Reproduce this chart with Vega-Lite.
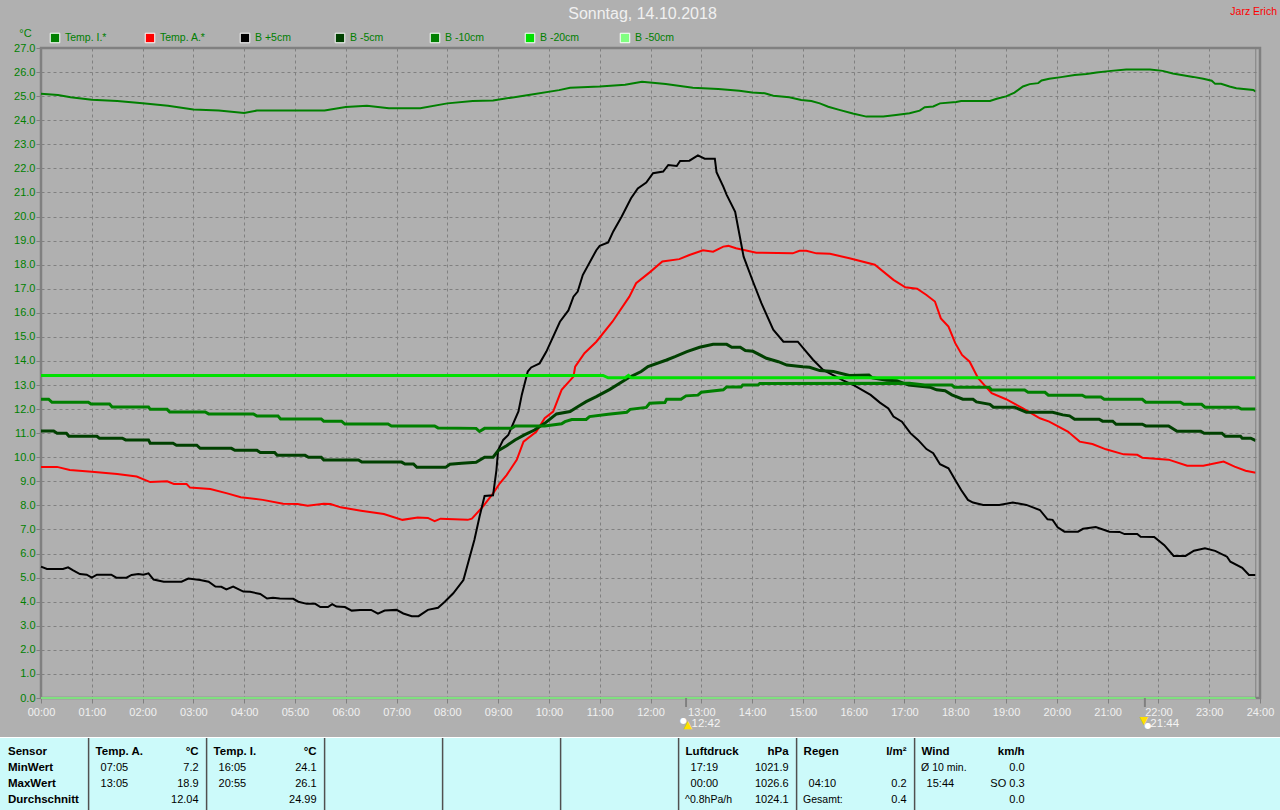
{"$schema":"https://vega.github.io/schema/vega-lite/v6.json","width":1219,"height":650,"autosize":"none","padding":{"left":41,"top":48,"right":20,"bottom":112},"background":"#b0b0b0","view":{"stroke":"#808080","strokeWidth":2.5,"fill":null},
"config":{"font":"Liberation Sans"},
"title":{"text":"Sonntag, 14.10.2018","font":"Liberation Sans","fontSize":16,"fontWeight":"normal","color":"#f0f0f0","anchor":"middle","frame":"group","dx":-8,"offset":-15},
"resolve":{"scale":{"x":"independent","y":"independent"}},
"datasets":{
"series":[
{"s":"Temp. I.*","m":0,"v":25.1},{"s":"Temp. I.*","m":20,"v":25.05},{"s":"Temp. I.*","m":35,"v":24.95},{"s":"Temp. I.*","m":60,"v":24.85},{"s":"Temp. I.*","m":90,"v":24.8},{"s":"Temp. I.*","m":120,"v":24.7},{"s":"Temp. I.*","m":150,"v":24.6},{"s":"Temp. I.*","m":180,"v":24.45},{"s":"Temp. I.*","m":210,"v":24.4},{"s":"Temp. I.*","m":240,"v":24.3},{"s":"Temp. I.*","m":255,"v":24.4},{"s":"Temp. I.*","m":335,"v":24.4},{"s":"Temp. I.*","m":360,"v":24.55},{"s":"Temp. I.*","m":385,"v":24.6},{"s":"Temp. I.*","m":411,"v":24.5},{"s":"Temp. I.*","m":448,"v":24.5},{"s":"Temp. I.*","m":480,"v":24.7},{"s":"Temp. I.*","m":510,"v":24.8},{"s":"Temp. I.*","m":534,"v":24.82},{"s":"Temp. I.*","m":576,"v":25.05},{"s":"Temp. I.*","m":612,"v":25.25},{"s":"Temp. I.*","m":625,"v":25.35},{"s":"Temp. I.*","m":660,"v":25.4},{"s":"Temp. I.*","m":690,"v":25.47},{"s":"Temp. I.*","m":710,"v":25.6},{"s":"Temp. I.*","m":738,"v":25.5},{"s":"Temp. I.*","m":770,"v":25.35},{"s":"Temp. I.*","m":800,"v":25.3},{"s":"Temp. I.*","m":825,"v":25.22},{"s":"Temp. I.*","m":840,"v":25.15},{"s":"Temp. I.*","m":855,"v":25.12},{"s":"Temp. I.*","m":865,"v":25.02},{"s":"Temp. I.*","m":884,"v":24.95},{"s":"Temp. I.*","m":898,"v":24.84},{"s":"Temp. I.*","m":910,"v":24.8},{"s":"Temp. I.*","m":920,"v":24.7},{"s":"Temp. I.*","m":930,"v":24.56},{"s":"Temp. I.*","m":943,"v":24.43},{"s":"Temp. I.*","m":959,"v":24.28},{"s":"Temp. I.*","m":975,"v":24.15},{"s":"Temp. I.*","m":995,"v":24.15},{"s":"Temp. I.*","m":1010,"v":24.22},{"s":"Temp. I.*","m":1026,"v":24.29},{"s":"Temp. I.*","m":1038,"v":24.4},{"s":"Temp. I.*","m":1044,"v":24.54},{"s":"Temp. I.*","m":1054,"v":24.57},{"s":"Temp. I.*","m":1062,"v":24.7},{"s":"Temp. I.*","m":1081,"v":24.76},{"s":"Temp. I.*","m":1087,"v":24.8},{"s":"Temp. I.*","m":1121,"v":24.8},{"s":"Temp. I.*","m":1129,"v":24.89},{"s":"Temp. I.*","m":1140,"v":24.99},{"s":"Temp. I.*","m":1150,"v":25.15},{"s":"Temp. I.*","m":1160,"v":25.4},{"s":"Temp. I.*","m":1168,"v":25.5},{"s":"Temp. I.*","m":1178,"v":25.54},{"s":"Temp. I.*","m":1182,"v":25.65},{"s":"Temp. I.*","m":1191,"v":25.72},{"s":"Temp. I.*","m":1205,"v":25.79},{"s":"Temp. I.*","m":1221,"v":25.88},{"s":"Temp. I.*","m":1235,"v":25.92},{"s":"Temp. I.*","m":1247,"v":25.98},{"s":"Temp. I.*","m":1264,"v":26.05},{"s":"Temp. I.*","m":1282,"v":26.11},{"s":"Temp. I.*","m":1310,"v":26.11},{"s":"Temp. I.*","m":1325,"v":26.05},{"s":"Temp. I.*","m":1337,"v":25.94},{"s":"Temp. I.*","m":1361,"v":25.8},{"s":"Temp. I.*","m":1373,"v":25.72},{"s":"Temp. I.*","m":1383,"v":25.64},{"s":"Temp. I.*","m":1387,"v":25.51},{"s":"Temp. I.*","m":1394,"v":25.51},{"s":"Temp. I.*","m":1404,"v":25.4},{"s":"Temp. I.*","m":1412,"v":25.33},{"s":"Temp. I.*","m":1432,"v":25.26},{"s":"Temp. I.*","m":1435,"v":25.19},
{"s":"Temp. A.*","m":0,"v":9.6},{"s":"Temp. A.*","m":19,"v":9.6},{"s":"Temp. A.*","m":34,"v":9.47},{"s":"Temp. A.*","m":60,"v":9.4},{"s":"Temp. A.*","m":90,"v":9.3},{"s":"Temp. A.*","m":113,"v":9.2},{"s":"Temp. A.*","m":129,"v":8.97},{"s":"Temp. A.*","m":149,"v":9.0},{"s":"Temp. A.*","m":157,"v":8.89},{"s":"Temp. A.*","m":172,"v":8.89},{"s":"Temp. A.*","m":176,"v":8.74},{"s":"Temp. A.*","m":200,"v":8.68},{"s":"Temp. A.*","m":220,"v":8.5},{"s":"Temp. A.*","m":236,"v":8.34},{"s":"Temp. A.*","m":262,"v":8.23},{"s":"Temp. A.*","m":286,"v":8.07},{"s":"Temp. A.*","m":303,"v":8.06},{"s":"Temp. A.*","m":315,"v":7.99},{"s":"Temp. A.*","m":334,"v":8.07},{"s":"Temp. A.*","m":342,"v":8.06},{"s":"Temp. A.*","m":354,"v":7.92},{"s":"Temp. A.*","m":378,"v":7.78},{"s":"Temp. A.*","m":405,"v":7.64},{"s":"Temp. A.*","m":427,"v":7.4},{"s":"Temp. A.*","m":445,"v":7.5},{"s":"Temp. A.*","m":457,"v":7.48},{"s":"Temp. A.*","m":465,"v":7.35},{"s":"Temp. A.*","m":472,"v":7.45},{"s":"Temp. A.*","m":504,"v":7.4},{"s":"Temp. A.*","m":509,"v":7.45},{"s":"Temp. A.*","m":522,"v":7.95},{"s":"Temp. A.*","m":534,"v":8.5},{"s":"Temp. A.*","m":542,"v":8.92},{"s":"Temp. A.*","m":550,"v":9.26},{"s":"Temp. A.*","m":562,"v":9.89},{"s":"Temp. A.*","m":570,"v":10.65},{"s":"Temp. A.*","m":585,"v":11.06},{"s":"Temp. A.*","m":595,"v":11.62},{"s":"Temp. A.*","m":605,"v":11.9},{"s":"Temp. A.*","m":615,"v":12.8},{"s":"Temp. A.*","m":629,"v":13.35},{"s":"Temp. A.*","m":631,"v":13.76},{"s":"Temp. A.*","m":642,"v":14.32},{"s":"Temp. A.*","m":656,"v":14.8},{"s":"Temp. A.*","m":675,"v":15.63},{"s":"Temp. A.*","m":695,"v":16.67},{"s":"Temp. A.*","m":703,"v":17.23},{"s":"Temp. A.*","m":719,"v":17.68},{"s":"Temp. A.*","m":734,"v":18.13},{"s":"Temp. A.*","m":754,"v":18.23},{"s":"Temp. A.*","m":766,"v":18.4},{"s":"Temp. A.*","m":782,"v":18.6},{"s":"Temp. A.*","m":794,"v":18.54},{"s":"Temp. A.*","m":806,"v":18.75},{"s":"Temp. A.*","m":812,"v":18.78},{"s":"Temp. A.*","m":821,"v":18.68},{"s":"Temp. A.*","m":845,"v":18.5},{"s":"Temp. A.*","m":888,"v":18.47},{"s":"Temp. A.*","m":896,"v":18.58},{"s":"Temp. A.*","m":904,"v":18.58},{"s":"Temp. A.*","m":916,"v":18.47},{"s":"Temp. A.*","m":932,"v":18.45},{"s":"Temp. A.*","m":955,"v":18.27},{"s":"Temp. A.*","m":985,"v":18.0},{"s":"Temp. A.*","m":1007,"v":17.37},{"s":"Temp. A.*","m":1021,"v":17.06},{"s":"Temp. A.*","m":1035,"v":17.0},{"s":"Temp. A.*","m":1046,"v":16.74},{"s":"Temp. A.*","m":1056,"v":16.47},{"s":"Temp. A.*","m":1063,"v":15.77},{"s":"Temp. A.*","m":1072,"v":15.43},{"s":"Temp. A.*","m":1080,"v":14.74},{"s":"Temp. A.*","m":1088,"v":14.25},{"s":"Temp. A.*","m":1097,"v":13.97},{"s":"Temp. A.*","m":1107,"v":13.28},{"s":"Temp. A.*","m":1123,"v":12.66},{"s":"Temp. A.*","m":1140,"v":12.41},{"s":"Temp. A.*","m":1160,"v":12.03},{"s":"Temp. A.*","m":1180,"v":11.62},{"s":"Temp. A.*","m":1191,"v":11.48},{"s":"Temp. A.*","m":1213,"v":11.07},{"s":"Temp. A.*","m":1227,"v":10.65},{"s":"Temp. A.*","m":1242,"v":10.55},{"s":"Temp. A.*","m":1258,"v":10.33},{"s":"Temp. A.*","m":1279,"v":10.12},{"s":"Temp. A.*","m":1295,"v":10.1},{"s":"Temp. A.*","m":1301,"v":9.98},{"s":"Temp. A.*","m":1332,"v":9.9},{"s":"Temp. A.*","m":1354,"v":9.65},{"s":"Temp. A.*","m":1373,"v":9.65},{"s":"Temp. A.*","m":1397,"v":9.82},{"s":"Temp. A.*","m":1410,"v":9.61},{"s":"Temp. A.*","m":1423,"v":9.44},{"s":"Temp. A.*","m":1435,"v":9.36},
{"s":"B +5cm","m":0,"v":5.46},{"s":"B +5cm","m":7,"v":5.36},{"s":"B +5cm","m":26,"v":5.36},{"s":"B +5cm","m":32,"v":5.43},{"s":"B +5cm","m":38,"v":5.3},{"s":"B +5cm","m":46,"v":5.15},{"s":"B +5cm","m":54,"v":5.12},{"s":"B +5cm","m":60,"v":5.0},{"s":"B +5cm","m":66,"v":5.12},{"s":"B +5cm","m":83,"v":5.12},{"s":"B +5cm","m":89,"v":5.0},{"s":"B +5cm","m":101,"v":5.0},{"s":"B +5cm","m":107,"v":5.11},{"s":"B +5cm","m":115,"v":5.15},{"s":"B +5cm","m":121,"v":5.12},{"s":"B +5cm","m":127,"v":5.18},{"s":"B +5cm","m":133,"v":4.92},{"s":"B +5cm","m":145,"v":4.83},{"s":"B +5cm","m":166,"v":4.83},{"s":"B +5cm","m":174,"v":4.96},{"s":"B +5cm","m":188,"v":4.9},{"s":"B +5cm","m":198,"v":4.83},{"s":"B +5cm","m":206,"v":4.63},{"s":"B +5cm","m":213,"v":4.62},{"s":"B +5cm","m":219,"v":4.51},{"s":"B +5cm","m":227,"v":4.63},{"s":"B +5cm","m":239,"v":4.42},{"s":"B +5cm","m":247,"v":4.41},{"s":"B +5cm","m":259,"v":4.32},{"s":"B +5cm","m":267,"v":4.13},{"s":"B +5cm","m":274,"v":4.16},{"s":"B +5cm","m":282,"v":4.13},{"s":"B +5cm","m":298,"v":4.12},{"s":"B +5cm","m":304,"v":4.0},{"s":"B +5cm","m":314,"v":3.91},{"s":"B +5cm","m":324,"v":3.91},{"s":"B +5cm","m":330,"v":3.78},{"s":"B +5cm","m":339,"v":3.78},{"s":"B +5cm","m":344,"v":3.9},{"s":"B +5cm","m":349,"v":3.8},{"s":"B +5cm","m":359,"v":3.78},{"s":"B +5cm","m":367,"v":3.63},{"s":"B +5cm","m":377,"v":3.66},{"s":"B +5cm","m":390,"v":3.66},{"s":"B +5cm","m":398,"v":3.5},{"s":"B +5cm","m":406,"v":3.63},{"s":"B +5cm","m":420,"v":3.66},{"s":"B +5cm","m":428,"v":3.51},{"s":"B +5cm","m":438,"v":3.4},{"s":"B +5cm","m":446,"v":3.4},{"s":"B +5cm","m":457,"v":3.66},{"s":"B +5cm","m":469,"v":3.75},{"s":"B +5cm","m":477,"v":4.0},{"s":"B +5cm","m":487,"v":4.35},{"s":"B +5cm","m":499,"v":4.9},{"s":"B +5cm","m":512,"v":6.57},{"s":"B +5cm","m":518,"v":7.53},{"s":"B +5cm","m":524,"v":8.39},{"s":"B +5cm","m":534,"v":8.42},{"s":"B +5cm","m":538,"v":9.47},{"s":"B +5cm","m":540,"v":10.3},{"s":"B +5cm","m":546,"v":10.72},{"s":"B +5cm","m":552,"v":10.93},{"s":"B +5cm","m":564,"v":11.9},{"s":"B +5cm","m":568,"v":12.6},{"s":"B +5cm","m":575,"v":13.56},{"s":"B +5cm","m":579,"v":13.73},{"s":"B +5cm","m":589,"v":13.9},{"s":"B +5cm","m":597,"v":14.39},{"s":"B +5cm","m":613,"v":15.63},{"s":"B +5cm","m":623,"v":16.1},{"s":"B +5cm","m":629,"v":16.67},{"s":"B +5cm","m":634,"v":16.88},{"s":"B +5cm","m":640,"v":17.57},{"s":"B +5cm","m":656,"v":18.6},{"s":"B +5cm","m":660,"v":18.78},{"s":"B +5cm","m":670,"v":18.92},{"s":"B +5cm","m":676,"v":19.38},{"s":"B +5cm","m":686,"v":20.0},{"s":"B +5cm","m":697,"v":20.76},{"s":"B +5cm","m":705,"v":21.17},{"s":"B +5cm","m":715,"v":21.41},{"s":"B +5cm","m":723,"v":21.8},{"s":"B +5cm","m":735,"v":21.87},{"s":"B +5cm","m":741,"v":22.14},{"s":"B +5cm","m":751,"v":22.1},{"s":"B +5cm","m":755,"v":22.31},{"s":"B +5cm","m":766,"v":22.32},{"s":"B +5cm","m":776,"v":22.54},{"s":"B +5cm","m":784,"v":22.4},{"s":"B +5cm","m":796,"v":22.4},{"s":"B +5cm","m":798,"v":21.84},{"s":"B +5cm","m":806,"v":21.24},{"s":"B +5cm","m":810,"v":20.9},{"s":"B +5cm","m":820,"v":20.2},{"s":"B +5cm","m":824,"v":19.45},{"s":"B +5cm","m":830,"v":18.33},{"s":"B +5cm","m":841,"v":17.3},{"s":"B +5cm","m":851,"v":16.4},{"s":"B +5cm","m":865,"v":15.3},{"s":"B +5cm","m":877,"v":14.8},{"s":"B +5cm","m":894,"v":14.8},{"s":"B +5cm","m":912,"v":14.05},{"s":"B +5cm","m":924,"v":13.63},{"s":"B +5cm","m":948,"v":13.18},{"s":"B +5cm","m":960,"v":13.0},{"s":"B +5cm","m":980,"v":12.59},{"s":"B +5cm","m":991,"v":12.27},{"s":"B +5cm","m":1001,"v":12.03},{"s":"B +5cm","m":1007,"v":11.69},{"s":"B +5cm","m":1017,"v":11.48},{"s":"B +5cm","m":1027,"v":11.0},{"s":"B +5cm","m":1036,"v":10.72},{"s":"B +5cm","m":1046,"v":10.34},{"s":"B +5cm","m":1054,"v":10.17},{"s":"B +5cm","m":1062,"v":9.71},{"s":"B +5cm","m":1072,"v":9.54},{"s":"B +5cm","m":1080,"v":9.06},{"s":"B +5cm","m":1087,"v":8.64},{"s":"B +5cm","m":1095,"v":8.23},{"s":"B +5cm","m":1101,"v":8.12},{"s":"B +5cm","m":1113,"v":8.02},{"s":"B +5cm","m":1132,"v":8.02},{"s":"B +5cm","m":1148,"v":8.12},{"s":"B +5cm","m":1164,"v":8.02},{"s":"B +5cm","m":1180,"v":7.81},{"s":"B +5cm","m":1189,"v":7.42},{"s":"B +5cm","m":1195,"v":7.4},{"s":"B +5cm","m":1201,"v":7.09},{"s":"B +5cm","m":1209,"v":6.91},{"s":"B +5cm","m":1225,"v":6.91},{"s":"B +5cm","m":1231,"v":7.03},{"s":"B +5cm","m":1246,"v":7.1},{"s":"B +5cm","m":1262,"v":6.91},{"s":"B +5cm","m":1274,"v":6.9},{"s":"B +5cm","m":1280,"v":6.81},{"s":"B +5cm","m":1295,"v":6.81},{"s":"B +5cm","m":1299,"v":6.7},{"s":"B +5cm","m":1315,"v":6.69},{"s":"B +5cm","m":1327,"v":6.35},{"s":"B +5cm","m":1338,"v":5.9},{"s":"B +5cm","m":1352,"v":5.9},{"s":"B +5cm","m":1362,"v":6.12},{"s":"B +5cm","m":1375,"v":6.22},{"s":"B +5cm","m":1387,"v":6.11},{"s":"B +5cm","m":1401,"v":5.87},{"s":"B +5cm","m":1405,"v":5.66},{"s":"B +5cm","m":1419,"v":5.41},{"s":"B +5cm","m":1427,"v":5.11},{"s":"B +5cm","m":1435,"v":5.11},
{"s":"B -5cm","m":0,"v":11.09},{"s":"B -5cm","m":15,"v":11.09},{"s":"B -5cm","m":19,"v":11.0},{"s":"B -5cm","m":30,"v":11.0},{"s":"B -5cm","m":33,"v":10.87},{"s":"B -5cm","m":66,"v":10.87},{"s":"B -5cm","m":69,"v":10.79},{"s":"B -5cm","m":96,"v":10.79},{"s":"B -5cm","m":100,"v":10.72},{"s":"B -5cm","m":127,"v":10.72},{"s":"B -5cm","m":129,"v":10.58},{"s":"B -5cm","m":156,"v":10.58},{"s":"B -5cm","m":160,"v":10.5},{"s":"B -5cm","m":184,"v":10.5},{"s":"B -5cm","m":188,"v":10.37},{"s":"B -5cm","m":225,"v":10.37},{"s":"B -5cm","m":229,"v":10.29},{"s":"B -5cm","m":255,"v":10.29},{"s":"B -5cm","m":259,"v":10.2},{"s":"B -5cm","m":276,"v":10.2},{"s":"B -5cm","m":279,"v":10.08},{"s":"B -5cm","m":312,"v":10.08},{"s":"B -5cm","m":316,"v":10.0},{"s":"B -5cm","m":331,"v":10.0},{"s":"B -5cm","m":334,"v":9.89},{"s":"B -5cm","m":375,"v":9.89},{"s":"B -5cm","m":379,"v":9.8},{"s":"B -5cm","m":426,"v":9.8},{"s":"B -5cm","m":430,"v":9.72},{"s":"B -5cm","m":440,"v":9.72},{"s":"B -5cm","m":444,"v":9.58},{"s":"B -5cm","m":478,"v":9.58},{"s":"B -5cm","m":483,"v":9.71},{"s":"B -5cm","m":497,"v":9.75},{"s":"B -5cm","m":514,"v":9.79},{"s":"B -5cm","m":524,"v":10.0},{"s":"B -5cm","m":534,"v":10.0},{"s":"B -5cm","m":540,"v":10.27},{"s":"B -5cm","m":550,"v":10.48},{"s":"B -5cm","m":560,"v":10.72},{"s":"B -5cm","m":571,"v":10.93},{"s":"B -5cm","m":583,"v":11.13},{"s":"B -5cm","m":595,"v":11.41},{"s":"B -5cm","m":609,"v":11.8},{"s":"B -5cm","m":625,"v":11.9},{"s":"B -5cm","m":634,"v":12.1},{"s":"B -5cm","m":644,"v":12.31},{"s":"B -5cm","m":656,"v":12.52},{"s":"B -5cm","m":672,"v":12.82},{"s":"B -5cm","m":695,"v":13.32},{"s":"B -5cm","m":709,"v":13.56},{"s":"B -5cm","m":717,"v":13.77},{"s":"B -5cm","m":739,"v":14.04},{"s":"B -5cm","m":749,"v":14.18},{"s":"B -5cm","m":763,"v":14.39},{"s":"B -5cm","m":778,"v":14.57},{"s":"B -5cm","m":794,"v":14.69},{"s":"B -5cm","m":810,"v":14.69},{"s":"B -5cm","m":816,"v":14.57},{"s":"B -5cm","m":826,"v":14.57},{"s":"B -5cm","m":832,"v":14.43},{"s":"B -5cm","m":841,"v":14.4},{"s":"B -5cm","m":857,"v":14.11},{"s":"B -5cm","m":871,"v":13.97},{"s":"B -5cm","m":881,"v":13.83},{"s":"B -5cm","m":900,"v":13.76},{"s":"B -5cm","m":908,"v":13.74},{"s":"B -5cm","m":920,"v":13.6},{"s":"B -5cm","m":936,"v":13.56},{"s":"B -5cm","m":955,"v":13.4},{"s":"B -5cm","m":978,"v":13.42},{"s":"B -5cm","m":982,"v":13.3},{"s":"B -5cm","m":999,"v":13.2},{"s":"B -5cm","m":1011,"v":13.18},{"s":"B -5cm","m":1025,"v":13.0},{"s":"B -5cm","m":1050,"v":12.91},{"s":"B -5cm","m":1058,"v":12.8},{"s":"B -5cm","m":1068,"v":12.76},{"s":"B -5cm","m":1076,"v":12.59},{"s":"B -5cm","m":1089,"v":12.41},{"s":"B -5cm","m":1101,"v":12.41},{"s":"B -5cm","m":1105,"v":12.3},{"s":"B -5cm","m":1121,"v":12.2},{"s":"B -5cm","m":1125,"v":12.08},{"s":"B -5cm","m":1150,"v":12.08},{"s":"B -5cm","m":1164,"v":11.87},{"s":"B -5cm","m":1195,"v":11.87},{"s":"B -5cm","m":1207,"v":11.76},{"s":"B -5cm","m":1215,"v":11.72},{"s":"B -5cm","m":1221,"v":11.58},{"s":"B -5cm","m":1250,"v":11.58},{"s":"B -5cm","m":1254,"v":11.5},{"s":"B -5cm","m":1266,"v":11.5},{"s":"B -5cm","m":1270,"v":11.37},{"s":"B -5cm","m":1301,"v":11.37},{"s":"B -5cm","m":1305,"v":11.3},{"s":"B -5cm","m":1332,"v":11.3},{"s":"B -5cm","m":1342,"v":11.08},{"s":"B -5cm","m":1370,"v":11.08},{"s":"B -5cm","m":1374,"v":11.0},{"s":"B -5cm","m":1395,"v":11.0},{"s":"B -5cm","m":1399,"v":10.87},{"s":"B -5cm","m":1417,"v":10.87},{"s":"B -5cm","m":1419,"v":10.79},{"s":"B -5cm","m":1429,"v":10.79},{"s":"B -5cm","m":1435,"v":10.69},
{"s":"B -10cm","m":0,"v":12.41},{"s":"B -10cm","m":9,"v":12.41},{"s":"B -10cm","m":13,"v":12.28},{"s":"B -10cm","m":56,"v":12.28},{"s":"B -10cm","m":59,"v":12.21},{"s":"B -10cm","m":81,"v":12.21},{"s":"B -10cm","m":84,"v":12.09},{"s":"B -10cm","m":127,"v":12.09},{"s":"B -10cm","m":129,"v":11.99},{"s":"B -10cm","m":149,"v":11.99},{"s":"B -10cm","m":152,"v":11.88},{"s":"B -10cm","m":194,"v":11.88},{"s":"B -10cm","m":198,"v":11.8},{"s":"B -10cm","m":251,"v":11.8},{"s":"B -10cm","m":255,"v":11.71},{"s":"B -10cm","m":280,"v":11.71},{"s":"B -10cm","m":283,"v":11.59},{"s":"B -10cm","m":331,"v":11.59},{"s":"B -10cm","m":334,"v":11.5},{"s":"B -10cm","m":355,"v":11.5},{"s":"B -10cm","m":359,"v":11.38},{"s":"B -10cm","m":410,"v":11.38},{"s":"B -10cm","m":414,"v":11.3},{"s":"B -10cm","m":465,"v":11.3},{"s":"B -10cm","m":469,"v":11.22},{"s":"B -10cm","m":514,"v":11.2},{"s":"B -10cm","m":518,"v":11.07},{"s":"B -10cm","m":524,"v":11.2},{"s":"B -10cm","m":556,"v":11.2},{"s":"B -10cm","m":560,"v":11.3},{"s":"B -10cm","m":595,"v":11.3},{"s":"B -10cm","m":615,"v":11.39},{"s":"B -10cm","m":619,"v":11.48},{"s":"B -10cm","m":627,"v":11.57},{"s":"B -10cm","m":644,"v":11.57},{"s":"B -10cm","m":648,"v":11.69},{"s":"B -10cm","m":670,"v":11.79},{"s":"B -10cm","m":692,"v":11.87},{"s":"B -10cm","m":696,"v":11.99},{"s":"B -10cm","m":715,"v":12.07},{"s":"B -10cm","m":719,"v":12.24},{"s":"B -10cm","m":737,"v":12.27},{"s":"B -10cm","m":739,"v":12.41},{"s":"B -10cm","m":756,"v":12.41},{"s":"B -10cm","m":762,"v":12.55},{"s":"B -10cm","m":776,"v":12.58},{"s":"B -10cm","m":780,"v":12.7},{"s":"B -10cm","m":806,"v":12.8},{"s":"B -10cm","m":810,"v":12.92},{"s":"B -10cm","m":827,"v":12.92},{"s":"B -10cm","m":829,"v":13.0},{"s":"B -10cm","m":847,"v":13.0},{"s":"B -10cm","m":849,"v":13.06},{"s":"B -10cm","m":1026,"v":13.07},{"s":"B -10cm","m":1044,"v":13.0},{"s":"B -10cm","m":1076,"v":13.0},{"s":"B -10cm","m":1079,"v":12.91},{"s":"B -10cm","m":1120,"v":12.91},{"s":"B -10cm","m":1123,"v":12.79},{"s":"B -10cm","m":1162,"v":12.79},{"s":"B -10cm","m":1166,"v":12.7},{"s":"B -10cm","m":1186,"v":12.7},{"s":"B -10cm","m":1190,"v":12.58},{"s":"B -10cm","m":1230,"v":12.58},{"s":"B -10cm","m":1234,"v":12.5},{"s":"B -10cm","m":1252,"v":12.5},{"s":"B -10cm","m":1256,"v":12.41},{"s":"B -10cm","m":1301,"v":12.41},{"s":"B -10cm","m":1305,"v":12.29},{"s":"B -10cm","m":1346,"v":12.29},{"s":"B -10cm","m":1350,"v":12.2},{"s":"B -10cm","m":1371,"v":12.2},{"s":"B -10cm","m":1375,"v":12.08},{"s":"B -10cm","m":1414,"v":12.08},{"s":"B -10cm","m":1418,"v":12.0},{"s":"B -10cm","m":1435,"v":12.0},
{"s":"B -20cm","m":0,"v":13.4},{"s":"B -20cm","m":664,"v":13.4},{"s":"B -20cm","m":670,"v":13.3},{"s":"B -20cm","m":690,"v":13.3},{"s":"B -20cm","m":694,"v":13.4},{"s":"B -20cm","m":697,"v":13.3},{"s":"B -20cm","m":1435,"v":13.3},
{"s":"B -50cm","m":0,"v":0},{"s":"B -50cm","m":1435,"v":0}
],
"names":[{"s":"Temp. I.*"},{"s":"Temp. A.*"},{"s":"B +5cm"},{"s":"B -5cm"},{"s":"B -10cm"},{"s":"B -20cm"},{"s":"B -50cm"}],
"events":[{"m":762,"label":"12:42","kind":"rise"},{"m":1304,"label":"21:44","kind":"set"}],
"seps":[{"cell":1},{"cell":2},{"cell":3},{"cell":4},{"cell":5},{"cell":6},{"cell":7},{"cell":8}],
"table":[
{"cell":0,"row":"Sensor","kind":"label","text":"Sensor"},{"cell":0,"row":"MinWert","kind":"label","text":"MinWert"},{"cell":0,"row":"MaxWert","kind":"label","text":"MaxWert"},{"cell":0,"row":"Durchschnitt","kind":"label","text":"Durchschnitt"},
{"cell":1,"row":"Sensor","kind":"head","text":"Temp. A."},{"cell":1,"row":"Sensor","kind":"unit","text":"°C"},{"cell":1,"row":"MinWert","kind":"time","text":"07:05"},{"cell":1,"row":"MinWert","kind":"value","text":"7.2"},{"cell":1,"row":"MaxWert","kind":"time","text":"13:05"},{"cell":1,"row":"MaxWert","kind":"value","text":"18.9"},{"cell":1,"row":"Durchschnitt","kind":"value","text":"12.04"},
{"cell":2,"row":"Sensor","kind":"head","text":"Temp. I."},{"cell":2,"row":"Sensor","kind":"unit","text":"°C"},{"cell":2,"row":"MinWert","kind":"time","text":"16:05"},{"cell":2,"row":"MinWert","kind":"value","text":"24.1"},{"cell":2,"row":"MaxWert","kind":"time","text":"20:55"},{"cell":2,"row":"MaxWert","kind":"value","text":"26.1"},{"cell":2,"row":"Durchschnitt","kind":"value","text":"24.99"},
{"cell":6,"row":"Sensor","kind":"head","text":"Luftdruck"},{"cell":6,"row":"Sensor","kind":"unit","text":"hPa"},{"cell":6,"row":"MinWert","kind":"time","text":"17:19"},{"cell":6,"row":"MinWert","kind":"value","text":"1021.9"},{"cell":6,"row":"MaxWert","kind":"time","text":"00:00"},{"cell":6,"row":"MaxWert","kind":"value","text":"1026.6"},{"cell":6,"row":"Durchschnitt","kind":"note","text":"^0.8hPa/h"},{"cell":6,"row":"Durchschnitt","kind":"value","text":"1024.1"},
{"cell":7,"row":"Sensor","kind":"head","text":"Regen"},{"cell":7,"row":"Sensor","kind":"unit","text":"l/m²"},{"cell":7,"row":"MaxWert","kind":"time","text":"04:10"},{"cell":7,"row":"MaxWert","kind":"value","text":"0.2"},{"cell":7,"row":"Durchschnitt","kind":"note","text":"Gesamt:"},{"cell":7,"row":"Durchschnitt","kind":"value","text":"0.4"},
{"cell":8,"row":"Sensor","kind":"head","text":"Wind"},{"cell":8,"row":"Sensor","kind":"unit","text":"km/h"},{"cell":8,"row":"MinWert","kind":"note","text":"Ø 10 min."},{"cell":8,"row":"MinWert","kind":"value","text":"0.0"},{"cell":8,"row":"MaxWert","kind":"time","text":"15:44"},{"cell":8,"row":"MaxWert","kind":"value","text":"SO 0.3"},{"cell":8,"row":"Durchschnitt","kind":"value","text":"0.0"}
],
"one":[{"panel":"table"}],
"inner":[{"m":1435}],
"author":[{"text":"Jarz Erich"}]
},
"layer":[
{"data":{"name":"series"},"mark":{"type":"line","interpolate":"linear","strokeCap":"butt","strokeJoin":"miter"},
"encoding":{
"x":{"field":"m","type":"quantitative","scale":{"domain":[0,1440],"nice":false,"zero":false},"axis":{"values":[0,60,120,180,240,300,360,420,480,540,600,660,720,780,840,900,960,1020,1080,1140,1200,1260,1320,1380,1440],"labelExpr":"(datum.value/60<10?'0':'')+datum.value/60+':00'","title":null,"grid":true,"gridColor":"#808080","gridDash":[3,3],"gridWidth":1,"gridOpacity":1,"domain":false,"ticks":true,"tickColor":"#808080","tickSize":5,"labelColor":"#f0f0f0","labelFont":"Liberation Sans","labelFontSize":11,"labelPadding":3,"labelFlush":false,"labelOverlap":false,"labelBound":false}},
"y":{"field":"v","type":"quantitative","scale":{"domain":[0,27],"nice":false,"zero":false},"axis":{"values":[0,1,2,3,4,5,6,7,8,9,10,11,12,13,14,15,16,17,18,19,20,21,22,23,24,25,26,27],"format":".1f","title":"°C","titleAngle":0,"titleX":-16,"titleY":-15,"titleAlign":"center","titleBaseline":"middle","titleFont":"Liberation Sans","titleFontSize":11,"titleFontWeight":"normal","titleColor":"#008000","grid":true,"gridColor":"#808080","gridDash":[3,3],"gridWidth":1,"gridOpacity":1,"domain":false,"ticks":true,"tickColor":"#808080","tickSize":5,"labelColor":"#008000","labelFont":"Liberation Sans","labelFontSize":11,"labelPadding":1,"labelOverlap":false,"labelBound":false}},
"color":{"field":"s","type":"nominal","sort":null,"scale":{"domain":["Temp. I.*","Temp. A.*","B +5cm","B -5cm","B -10cm","B -20cm","B -50cm"],"range":["#007f00","#ff0000","#000000","#004000","#007f00","#00e000","#80ff80"]},"legend":null},
"strokeWidth":{"field":"s","type":"nominal","sort":null,"scale":{"type":"ordinal","domain":["Temp. I.*","Temp. A.*","B +5cm","B -5cm","B -10cm","B -20cm","B -50cm"],"range":[2,2,2,3,3,3,1.5]},"legend":null},
"detail":{"field":"s"}
}},
{"data":{"name":"inner"},"mark":{"type":"rule","color":"#808080","strokeWidth":1},"encoding":{
"x":{"field":"m","type":"quantitative","scale":{"domain":[0,1440],"nice":false,"zero":false},"axis":null},
"y":{"datum":0,"type":"quantitative","scale":{"domain":[0,27],"nice":false,"zero":false},"axis":null},
"y2":{"datum":27}}},
{"data":{"name":"events"},"mark":{"type":"rule","color":"#808080","strokeWidth":2},"encoding":{
"x":{"field":"m","type":"quantitative","scale":{"domain":[0,1440],"nice":false,"zero":false},"axis":null},
"y":{"datum":698,"type":"quantitative","scale":{"domain":[0,810],"range":[-48,762],"nice":false,"zero":false},"axis":null},
"y2":{"datum":707}}},
{"data":{"name":"events"},"mark":{"type":"text","align":"left","baseline":"middle","dx":5.5,"color":"#f4f4f4","fontSize":11.5,"font":"Liberation Sans"},"encoding":{
"x":{"field":"m","type":"quantitative","scale":{"domain":[0,1440],"nice":false,"zero":false},"axis":null},
"y":{"datum":724,"type":"quantitative","scale":{"domain":[0,810],"range":[-48,762],"nice":false,"zero":false},"axis":null},
"text":{"field":"label"}}},
{"data":{"name":"events"},"transform":[{"filter":"datum.kind=='rise'"}],"mark":{"type":"text","text":"●","align":"center","baseline":"middle","dx":-2.5,"color":"#ffffff","fontSize":8,"font":"DejaVu Sans"},"encoding":{
"x":{"field":"m","type":"quantitative","scale":{"domain":[0,1440],"nice":false,"zero":false},"axis":null},
"y":{"datum":721,"type":"quantitative","scale":{"domain":[0,810],"range":[-48,762],"nice":false,"zero":false},"axis":null}}},
{"data":{"name":"events"},"transform":[{"filter":"datum.kind=='rise'"}],"mark":{"type":"text","text":"▲","align":"center","baseline":"middle","dx":2,"color":"#ffe000","fontSize":11,"font":"DejaVu Sans"},"encoding":{
"x":{"field":"m","type":"quantitative","scale":{"domain":[0,1440],"nice":false,"zero":false},"axis":null},
"y":{"datum":725,"type":"quantitative","scale":{"domain":[0,810],"range":[-48,762],"nice":false,"zero":false},"axis":null}}},
{"data":{"name":"events"},"transform":[{"filter":"datum.kind=='set'"}],"mark":{"type":"text","text":"●","align":"center","baseline":"middle","dx":3,"color":"#ffffff","fontSize":8,"font":"DejaVu Sans"},"encoding":{
"x":{"field":"m","type":"quantitative","scale":{"domain":[0,1440],"nice":false,"zero":false},"axis":null},
"y":{"datum":726,"type":"quantitative","scale":{"domain":[0,810],"range":[-48,762],"nice":false,"zero":false},"axis":null}}},
{"data":{"name":"events"},"transform":[{"filter":"datum.kind=='set'"}],"mark":{"type":"text","text":"▼","align":"center","baseline":"middle","dx":-1,"color":"#ffe000","fontSize":11,"font":"DejaVu Sans"},"encoding":{
"x":{"field":"m","type":"quantitative","scale":{"domain":[0,1440],"nice":false,"zero":false},"axis":null},
"y":{"datum":721,"type":"quantitative","scale":{"domain":[0,810],"range":[-48,762],"nice":false,"zero":false},"axis":null}}},
{"data":{"name":"names"},"mark":{"type":"point","shape":"square","filled":true,"opacity":1,"stroke":"#ffffff","strokeWidth":1,"size":90},"encoding":{
"x":{"field":"s","type":"nominal","sort":null,"scale":{"type":"point","domain":["Temp. I.*","Temp. A.*","B +5cm","B -5cm","B -10cm","B -20cm","B -50cm"],"range":[14,584],"padding":0},"axis":null},
"y":{"datum":38,"type":"quantitative","scale":{"domain":[0,810],"range":[-48,762],"nice":false,"zero":false},"axis":null},
"color":{"field":"s","type":"nominal","sort":null,"scale":{"domain":["Temp. I.*","Temp. A.*","B +5cm","B -5cm","B -10cm","B -20cm","B -50cm"],"range":["#007f00","#ff0000","#000000","#004000","#007f00","#00e000","#80ff80"]},"legend":null}}},
{"data":{"name":"names"},"mark":{"type":"text","align":"left","baseline":"middle","dx":10,"color":"#007f00","fontSize":10.5,"font":"Liberation Sans"},"encoding":{
"x":{"field":"s","type":"nominal","sort":null,"scale":{"type":"point","domain":["Temp. I.*","Temp. A.*","B +5cm","B -5cm","B -10cm","B -20cm","B -50cm"],"range":[14,584],"padding":0},"axis":null},
"y":{"datum":38,"type":"quantitative","scale":{"domain":[0,810],"range":[-48,762],"nice":false,"zero":false},"axis":null},
"text":{"field":"s"}}},
{"data":{"name":"author"},"mark":{"type":"text","align":"right","baseline":"middle","color":"#ff0000","fontSize":10.5,"font":"Liberation Sans"},"encoding":{
"x":{"datum":1277,"type":"quantitative","scale":{"domain":[0,1280],"range":[-41,1239],"nice":false,"zero":false},"axis":null},
"y":{"datum":12,"type":"quantitative","scale":{"domain":[0,810],"range":[-48,762],"nice":false,"zero":false},"axis":null},
"text":{"field":"text"}}},
{"data":{"name":"one"},"mark":{"type":"rect","color":"#ccfafa"},"encoding":{
"x":{"datum":0,"type":"quantitative","scale":{"domain":[0,1280],"range":[-41,1239],"nice":false,"zero":false},"axis":null},
"x2":{"datum":1280},
"y":{"datum":738,"type":"quantitative","scale":{"domain":[0,810],"range":[-48,762],"nice":false,"zero":false},"axis":null},
"y2":{"datum":810}}},
{"data":{"name":"one"},"mark":{"type":"rule","color":"#ffffff","strokeWidth":1},"encoding":{
"x":{"datum":0,"type":"quantitative","scale":{"domain":[0,1280],"range":[-41,1239],"nice":false,"zero":false},"axis":null},
"x2":{"datum":1280},
"y":{"datum":737.5,"type":"quantitative","scale":{"domain":[0,810],"range":[-48,762],"nice":false,"zero":false},"axis":null}}},
{"data":{"name":"seps"},"mark":{"type":"rule","color":"#505050","strokeWidth":1.5},"encoding":{
"x":{"field":"cell","type":"quantitative","scale":{"domain":[1,8],"range":[47.6,873.6],"nice":false,"zero":false},"axis":null},
"y":{"datum":738,"type":"quantitative","scale":{"domain":[0,810],"range":[-48,762],"nice":false,"zero":false},"axis":null},
"y2":{"datum":810}}},
{"data":{"name":"table"},"transform":[{"filter":"datum.kind=='label'"}],"mark":{"type":"text","align":"left","baseline":"middle","dx":37.4,"fontWeight":"bold","fontSize":11.5,"color":"#000000","font":"Liberation Sans"},"encoding":{
"x":{"field":"cell","type":"quantitative","scale":{"domain":[1,8],"range":[47.6,873.6],"nice":false,"zero":false},"axis":null},
"y":{"field":"row","type":"ordinal","sort":null,"scale":{"type":"point","domain":["Sensor","MinWert","MaxWert","Durchschnitt"],"range":[704,752],"padding":0},"axis":null},
"text":{"field":"text"}}},
{"data":{"name":"table"},"transform":[{"filter":"datum.kind=='head'"}],"mark":{"type":"text","align":"left","baseline":"middle","dx":7,"fontWeight":"bold","fontSize":11.5,"color":"#000000","font":"Liberation Sans"},"encoding":{
"x":{"field":"cell","type":"quantitative","scale":{"domain":[1,8],"range":[47.6,873.6],"nice":false,"zero":false},"axis":null},
"y":{"field":"row","type":"ordinal","sort":null,"scale":{"type":"point","domain":["Sensor","MinWert","MaxWert","Durchschnitt"],"range":[704,752],"padding":0},"axis":null},
"text":{"field":"text"}}},
{"data":{"name":"table"},"transform":[{"filter":"datum.kind=='unit'"}],"mark":{"type":"text","align":"right","baseline":"middle","dx":110,"fontWeight":"bold","fontSize":11.5,"color":"#000000","font":"Liberation Sans"},"encoding":{
"x":{"field":"cell","type":"quantitative","scale":{"domain":[1,8],"range":[47.6,873.6],"nice":false,"zero":false},"axis":null},
"y":{"field":"row","type":"ordinal","sort":null,"scale":{"type":"point","domain":["Sensor","MinWert","MaxWert","Durchschnitt"],"range":[704,752],"padding":0},"axis":null},
"text":{"field":"text"}}},
{"data":{"name":"table"},"transform":[{"filter":"datum.kind=='time'"}],"mark":{"type":"text","align":"left","baseline":"middle","dx":12,"fontSize":11,"color":"#000000","font":"Liberation Sans"},"encoding":{
"x":{"field":"cell","type":"quantitative","scale":{"domain":[1,8],"range":[47.6,873.6],"nice":false,"zero":false},"axis":null},
"y":{"field":"row","type":"ordinal","sort":null,"scale":{"type":"point","domain":["Sensor","MinWert","MaxWert","Durchschnitt"],"range":[704,752],"padding":0},"axis":null},
"text":{"field":"text"}}},
{"data":{"name":"table"},"transform":[{"filter":"datum.kind=='note'"}],"mark":{"type":"text","align":"left","baseline":"middle","dx":6.5,"fontSize":10.5,"color":"#000000","font":"Liberation Sans"},"encoding":{
"x":{"field":"cell","type":"quantitative","scale":{"domain":[1,8],"range":[47.6,873.6],"nice":false,"zero":false},"axis":null},
"y":{"field":"row","type":"ordinal","sort":null,"scale":{"type":"point","domain":["Sensor","MinWert","MaxWert","Durchschnitt"],"range":[704,752],"padding":0},"axis":null},
"text":{"field":"text"}}},
{"data":{"name":"table"},"transform":[{"filter":"datum.kind=='value'"}],"mark":{"type":"text","align":"right","baseline":"middle","dx":110,"fontSize":11,"color":"#000000","font":"Liberation Sans"},"encoding":{
"x":{"field":"cell","type":"quantitative","scale":{"domain":[1,8],"range":[47.6,873.6],"nice":false,"zero":false},"axis":null},
"y":{"field":"row","type":"ordinal","sort":null,"scale":{"type":"point","domain":["Sensor","MinWert","MaxWert","Durchschnitt"],"range":[704,752],"padding":0},"axis":null},
"text":{"field":"text"}}}
]}
